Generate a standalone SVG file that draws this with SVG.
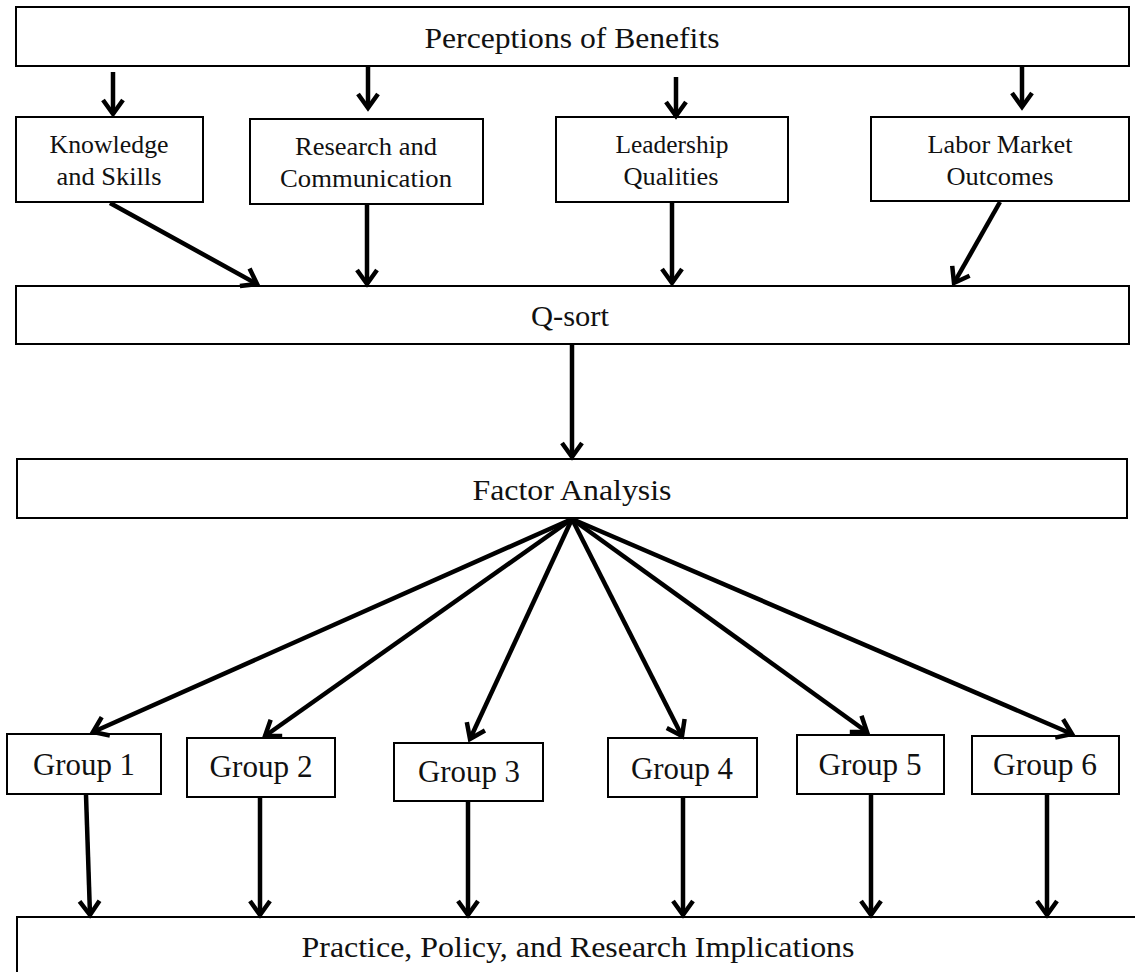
<svg xmlns="http://www.w3.org/2000/svg" width="1135" height="972" viewBox="0 0 1135 972">
<defs>
<marker id="ah" markerUnits="userSpaceOnUse" viewBox="-16 -12 20 24" refX="0" refY="0" markerWidth="20" markerHeight="24" orient="auto" overflow="visible">
<path d="M-14,-10 L0,0 L-14,10" fill="none" stroke="#000" stroke-width="4.5" stroke-linejoin="miter" stroke-linecap="butt"/>
</marker>
</defs>
<style>
.box{fill:#fff;stroke:#000;stroke-width:2}
.t{font-family:"Liberation Serif","Times New Roman",serif;fill:#111;text-anchor:middle}
.big{font-size:30px}
.sm{font-size:25px}
.grp{font-size:31px}
.c line{stroke:#000;stroke-width:4.5;marker-end:url(#ah)}
</style>
<rect width="1135" height="972" fill="#fff"/>
<g id="perceptions"><rect class="box" x="16" y="7" width="1113" height="59"/><text class="t big" x="572" y="48" textLength="295" lengthAdjust="spacingAndGlyphs">Perceptions of Benefits</text></g>
<g id="knowledge"><rect class="box" x="16" y="117" width="187" height="85"/><text class="t sm" x="109" y="153" textLength="119" lengthAdjust="spacingAndGlyphs">Knowledge</text><text class="t sm" x="109" y="185" textLength="105" lengthAdjust="spacingAndGlyphs">and Skills</text></g>
<g id="research"><rect class="box" x="250" y="119" width="233" height="85"/><text class="t sm" x="366" y="155" textLength="142" lengthAdjust="spacingAndGlyphs">Research and</text><text class="t sm" x="366" y="187" textLength="172" lengthAdjust="spacingAndGlyphs">Communication</text></g>
<g id="leadership"><rect class="box" x="556" y="117" width="232" height="85"/><text class="t sm" x="672" y="153" textLength="113" lengthAdjust="spacingAndGlyphs">Leadership</text><text class="t sm" x="671" y="185" textLength="95" lengthAdjust="spacingAndGlyphs">Qualities</text></g>
<g id="labor"><rect class="box" x="871" y="117" width="258" height="84"/><text class="t sm" x="1000" y="153" textLength="145" lengthAdjust="spacingAndGlyphs">Labor Market</text><text class="t sm" x="1000" y="185" textLength="107" lengthAdjust="spacingAndGlyphs">Outcomes</text></g>
<g id="qsort"><rect class="box" x="16" y="286" width="1113" height="58"/><text class="t big" x="570" y="326" textLength="78" lengthAdjust="spacingAndGlyphs">Q-sort</text></g>
<g id="factor"><rect class="box" x="17" y="459" width="1110" height="59"/><text class="t big" x="572" y="500" textLength="199" lengthAdjust="spacingAndGlyphs">Factor Analysis</text></g>
<g id="group1"><rect class="box" x="7" y="734" width="154" height="60"/><text class="t grp" x="84" y="775" textLength="102" lengthAdjust="spacingAndGlyphs">Group 1</text></g>
<g id="group2"><rect class="box" x="187" y="738" width="148" height="59"/><text class="t grp" x="261" y="777" textLength="103" lengthAdjust="spacingAndGlyphs">Group 2</text></g>
<g id="group3"><rect class="box" x="394" y="743" width="149" height="58"/><text class="t grp" x="469" y="782" textLength="102" lengthAdjust="spacingAndGlyphs">Group 3</text></g>
<g id="group4"><rect class="box" x="608" y="738" width="149" height="59"/><text class="t grp" x="682" y="779" textLength="102" lengthAdjust="spacingAndGlyphs">Group 4</text></g>
<g id="group5"><rect class="box" x="797" y="735" width="147" height="59"/><text class="t grp" x="870" y="775" textLength="103" lengthAdjust="spacingAndGlyphs">Group 5</text></g>
<g id="group6"><rect class="box" x="972" y="736" width="147" height="58"/><text class="t grp" x="1045" y="775" textLength="104" lengthAdjust="spacingAndGlyphs">Group 6</text></g>
<g id="implications"><rect class="box" x="17" y="917" width="1130" height="80"/><text class="t big" x="578" y="957" textLength="553" lengthAdjust="spacingAndGlyphs">Practice, Policy, and Research Implications</text></g>
<g id="connectors" class="c">
<line x1="113" y1="72" x2="113" y2="114"/>
<line x1="368" y1="67" x2="368" y2="108"/>
<line x1="676" y1="77" x2="676" y2="116"/>
<line x1="1022" y1="67" x2="1022" y2="107"/>
<line x1="110" y1="203" x2="257" y2="284"/>
<line x1="367" y1="204" x2="367" y2="284"/>
<line x1="672" y1="203" x2="672" y2="283"/>
<line x1="1000" y1="202" x2="954" y2="283"/>
<line x1="572" y1="345" x2="572" y2="457"/>
<line x1="572" y1="519" x2="93" y2="732"/>
<line x1="572" y1="519" x2="265" y2="736"/>
<line x1="572" y1="519" x2="470" y2="739"/>
<line x1="572" y1="519" x2="682" y2="736"/>
<line x1="572" y1="519" x2="867" y2="732"/>
<line x1="572" y1="519" x2="1072" y2="734"/>
<line x1="86" y1="795" x2="90" y2="915"/>
<line x1="260" y1="798" x2="260" y2="915"/>
<line x1="468" y1="802" x2="468" y2="915"/>
<line x1="683" y1="798" x2="683" y2="915"/>
<line x1="871" y1="795" x2="871" y2="915"/>
<line x1="1047" y1="795" x2="1047" y2="915"/>
</g>
</svg>
